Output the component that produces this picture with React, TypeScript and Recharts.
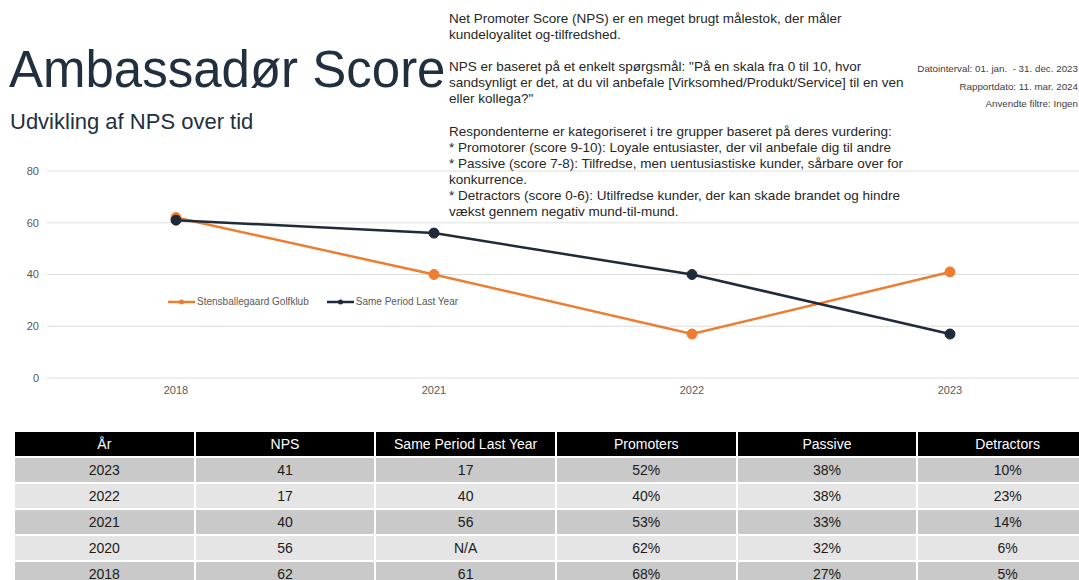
import { CartesianGrid, Legend, Line, LineChart, XAxis, YAxis } from "recharts";

const years = ["2018", "2021", "2022", "2023"];
const clubNps = [62, 40, 17, 41];
const lastYearNps = [61, 56, 40, 17];
const yTicks = [0, 20, 40, 60, 80];
const seriesNames = ["Stensballegaard Golfklub", "Same Period Last Year"];

const tableHeader = ["År", "NPS", "Same Period Last Year", "Promoters", "Passive", "Detractors"];
const tableYears = ["2023", "2022", "2021", "2020", "2018"];
const tableNps = ["41", "17", "40", "56", "62"];
const tableLastYear = ["17", "40", "56", "N/A", "61"];
const tablePromoters = ["52%", "40%", "53%", "62%", "68%"];
const tablePassive = ["38%", "38%", "33%", "32%", "27%"];
const tableDetractors = ["10%", "23%", "14%", "6%", "5%"];

const ORANGE = "#ee7d31";
const NAVY = "#1f2a3b";
const FONT = "'Liberation Sans', Arial, sans-serif";

const chartData = years.map((y, i) => ({
  year: y,
  club: clubNps[i],
  lastYear: lastYearNps[i],
}));

const descLines = [
  "Net Promoter Score (NPS) er en meget brugt målestok, der måler",
  "kundeloyalitet og-tilfredshed.",
  "",
  "NPS er baseret på et enkelt spørgsmål: \"På en skala fra 0 til 10, hvor",
  "sandsynligt er det, at du vil anbefale [Virksomhed/Produkt/Service] til en ven",
  "eller kollega?\"",
  "",
  "Respondenterne er kategoriseret i tre grupper baseret på deres vurdering:",
  "* Promotorer (score 9-10): Loyale entusiaster, der vil anbefale dig til andre",
  "* Passive (score 7-8): Tilfredse, men uentusiastiske kunder, sårbare over for",
  "konkurrence.",
  "* Detractors (score 0-6): Utilfredse kunder, der kan skade brandet og hindre",
  "vækst gennem negativ mund-til-mund.",
];

// legend med lille prik midt på linjen, i samme rækkefølge som serierne
function LegendContent({ payload }: any) {
  const items = [...(payload || [])].sort(
    (a: any, b: any) => seriesNames.indexOf(a.value) - seriesNames.indexOf(b.value)
  );
  return (
    <div style={{ display: "flex", alignItems: "center", fontFamily: FONT, fontSize: 10, color: "#595959" }}>
      {items.map((p: any) => (
        <div key={p.value} style={{ display: "flex", alignItems: "center", marginRight: 18 }}>
          <svg width={27} height={8}>
            <line x1={0} y1={4} x2={27} y2={4} stroke={p.color} strokeWidth={2.5} />
            <circle cx={13.5} cy={4} r={2.5} fill={p.color} />
          </svg>
          <span style={{ marginLeft: 2 }}>{p.value}</span>
        </div>
      ))}
    </div>
  );
}

export default function App() {
  const rows = tableYears.map((y, i) => [
    y,
    tableNps[i],
    tableLastYear[i],
    tablePromoters[i],
    tablePassive[i],
    tableDetractors[i],
  ]);

  return (
    <div
      style={{
        position: "fixed",
        top: 0,
        left: 0,
        width: 1079,
        height: 580,
        overflow: "hidden",
        background: "#fff",
        fontFamily: FONT,
      }}
    >
      {/* Titel */}
      <div style={{ position: "absolute", left: 9, top: 40, fontSize: 51, color: "#222f3e", lineHeight: "60px", whiteSpace: "nowrap" }}>
        Ambassadør Score
      </div>
      <div style={{ position: "absolute", left: 10, top: 108, fontSize: 22, color: "#222f3e", lineHeight: "28px" }}>
        Udvikling af NPS over tid
      </div>

      {/* Selve grafen */}
      <div style={{ position: "absolute", left: 0, top: 150 }}>
        <LineChart width={1079} height={271} data={chartData} margin={{ top: 21, right: 0, left: 0, bottom: 0 }}>
          <CartesianGrid vertical={false} stroke="#dedede" />
          <XAxis
            dataKey="year"
            padding={{ left: 129, right: 129 }}
            axisLine={false}
            tickLine={false}
            height={32}
            tick={{ fill: "#595959", fontSize: 11, fontFamily: FONT }}
          />
          <YAxis
            domain={[0, 80]}
            ticks={yTicks}
            width={47}
            axisLine={false}
            tickLine={false}
            tick={{ fill: "#595959", fontSize: 11, fontFamily: FONT }}
          />
          <Legend
            content={<LegendContent />}
            wrapperStyle={{ position: "absolute", top: 146, left: 168, width: "auto" }}
          />
          <Line
            dataKey="club"
            name={seriesNames[0]}
            stroke={ORANGE}
            strokeWidth={2.5}
            dot={{ r: 5, fill: ORANGE, stroke: ORANGE, strokeWidth: 1 }}
            isAnimationActive={false}
          />
          <Line
            dataKey="lastYear"
            name={seriesNames[1]}
            stroke={NAVY}
            strokeWidth={2.5}
            dot={{ r: 5, fill: NAVY, stroke: NAVY, strokeWidth: 1 }}
            isAnimationActive={false}
          />
        </LineChart>
      </div>

      {/* Forklaring */}
      <div style={{ position: "absolute", left: 449, top: 11, fontSize: 13.5, lineHeight: "16px", color: "#262626", whiteSpace: "nowrap" }}>
        {descLines.map((l, i) => (
          <div key={i} style={{ height: 16.1 }}>{l}</div>
        ))}
      </div>

      <div style={{ position: "absolute", right: 1, top: 60, fontSize: 9.8, lineHeight: "17.5px", color: "#404040", textAlign: "right" }}>
        <div>Datointerval: 01. jan.&nbsp; - 31. dec. 2023</div>
        <div>Rapportdato: 11. mar. 2024</div>
        <div>Anvendte filtre: Ingen</div>
      </div>

      {/* Tabel */}
      <table
        style={{
          position: "absolute",
          left: 13,
          top: 430,
          width: 1086,
          borderCollapse: "separate",
          borderSpacing: 2,
          fontSize: 14,
          tableLayout: "fixed",
          fontFamily: FONT,
        }}
      >
        <thead>
          <tr>
            {tableHeader.map((h) => (
              <th key={h} style={{ background: "#000", color: "#fff", fontWeight: 400, height: 24, padding: 0 }}>
                {h}
              </th>
            ))}
          </tr>
        </thead>
        <tbody>
          {rows.map((r, i) => (
            <tr key={i}>
              {r.map((c, j) => (
                <td
                  key={j}
                  style={{
                    background: i % 2 === 0 ? "#c9c9c9" : "#e5e5e5",
                    color: "#1a1a1a",
                    textAlign: "center",
                    height: 24,
                    padding: 0,
                  }}
                >
                  {c}
                </td>
              ))}
            </tr>
          ))}
        </tbody>
      </table>
    </div>
  );
}
